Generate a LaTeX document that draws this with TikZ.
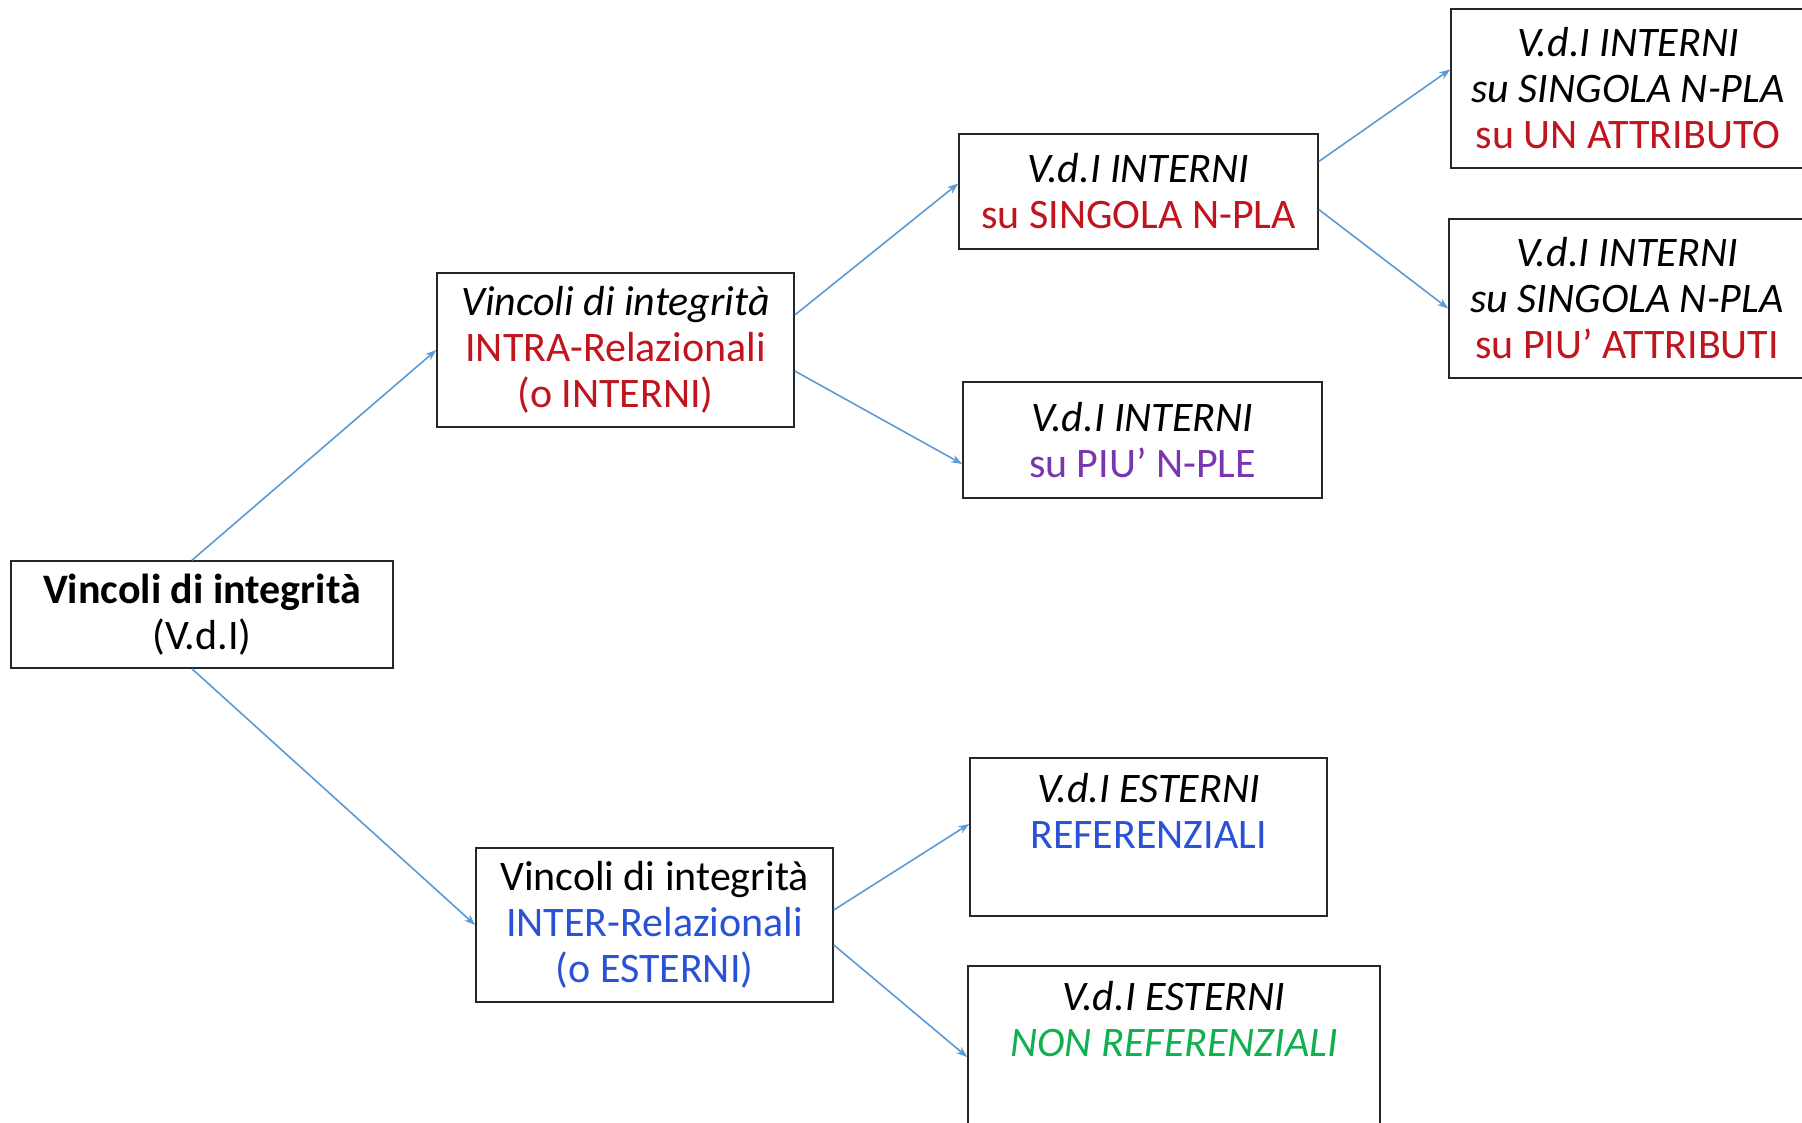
\documentclass[tikz,border=0pt]{standalone}
\usepackage{fontspec}
\setmainfont{Carlito}
\usetikzlibrary{arrows.meta,calc}
\definecolor{arrowblue}{HTML}{5B9BD5}
\definecolor{vred}{HTML}{C0141E}
\definecolor{vblue}{HTML}{2A52D6}
\definecolor{vpurple}{HTML}{7A35B0}
\definecolor{vgreen}{HTML}{10B050}
\begin{document}
\begin{tikzpicture}[x=1pt,y=-1pt,
  box/.style={draw=black!85, line width=1.6pt, inner sep=0pt, align=center,
    font=\fontsize{42}{46}\selectfont},
  txt/.style={inner sep=0pt, align=center, font=\fontsize{42}{46}\selectfont},
  conn/.style={draw=arrowblue, line width=1.6pt, -{Stealth[length=11pt,width=8pt]}}]
\useasboundingbox[fill=white] (0,0) rectangle (1802,1122);

\node[box, minimum width=382pt, minimum height=107pt] (root) at (202,614.5)
  {\textbf{Vincoli di integrità}\\(V.d.I)};
\node[box, minimum width=357pt, minimum height=154pt] (intra) at (615.5,350)
  {\textit{Vincoli di integrità}\\\textcolor{vred}{INTRA-Relazionali}\\\textcolor{vred}{(o INTERNI)}};
\node[box, minimum width=359pt, minimum height=115pt] (sing) at (1138.5,191.5)
  {\textit{V.d.I INTERNI}\\\textcolor{vred}{su SINGOLA N-PLA}};
\node[box, minimum width=354pt, minimum height=159pt] (unattr) at (1628,88.5)
  {\textit{V.d.I INTERNI}\\\textit{su SINGOLA N-PLA}\\\textcolor{vred}{su UN ATTRIBUTO}};
\node[box, minimum width=356pt, minimum height=159pt] (piuattr) at (1627,298.5)
  {\textit{V.d.I INTERNI}\\\textit{su SINGOLA N-PLA}\\\textcolor{vred}{su PIU’ ATTRIBUTI}};
\node[box, minimum width=359pt, minimum height=116pt] (nple) at (1142.5,440)
  {\textit{V.d.I INTERNI}\\\textcolor{vpurple}{su PIU’ N-PLE}};
\node[box, minimum width=357pt, minimum height=154pt] (inter) at (654.5,925)
  {Vincoli di integrità\\\textcolor{vblue}{INTER-Relazionali}\\\textcolor{vblue}{(o ESTERNI)}};
\node[box, minimum width=357pt, minimum height=158pt] (ref) at (1148.5,837) {};
\node[txt, anchor=north] (reftxt) at ([yshift=-16pt]ref.north)
  {\textit{V.d.I ESTERNI}\\\textcolor{vblue}{REFERENZIALI}};
\node[box, minimum width=412pt, minimum height=164pt] (nonref) at (1174,1048) {};
\node[txt, anchor=north] (nonreftxt) at ([yshift=-16pt]nonref.north)
  {\textit{V.d.I ESTERNI}\\\textcolor{vgreen}{\textit{NON REFERENZIALI}}};

\draw[conn] ([xshift=-10pt]root.north) -- (intra.west);
\draw[conn] ([xshift=-10pt]root.south) -- (inter.west);
\draw[conn] ([yshift=35pt]intra.east) -- ([yshift=8pt]sing.west);
\draw[conn] ([yshift=-21pt]intra.east) -- ([yshift=-24pt]nple.west);
\draw[conn] ([yshift=30pt]sing.east) -- ([yshift=19pt]unattr.west);
\draw[conn] ([yshift=-18pt]sing.east) -- ([yshift=-10pt]piuattr.west);
\draw[conn] ([yshift=15pt]inter.east) -- ([yshift=13pt]ref.west);
\draw[conn] ([yshift=-20pt]inter.east) -- ([yshift=-9pt]nonref.west);
\end{tikzpicture}
\end{document}
